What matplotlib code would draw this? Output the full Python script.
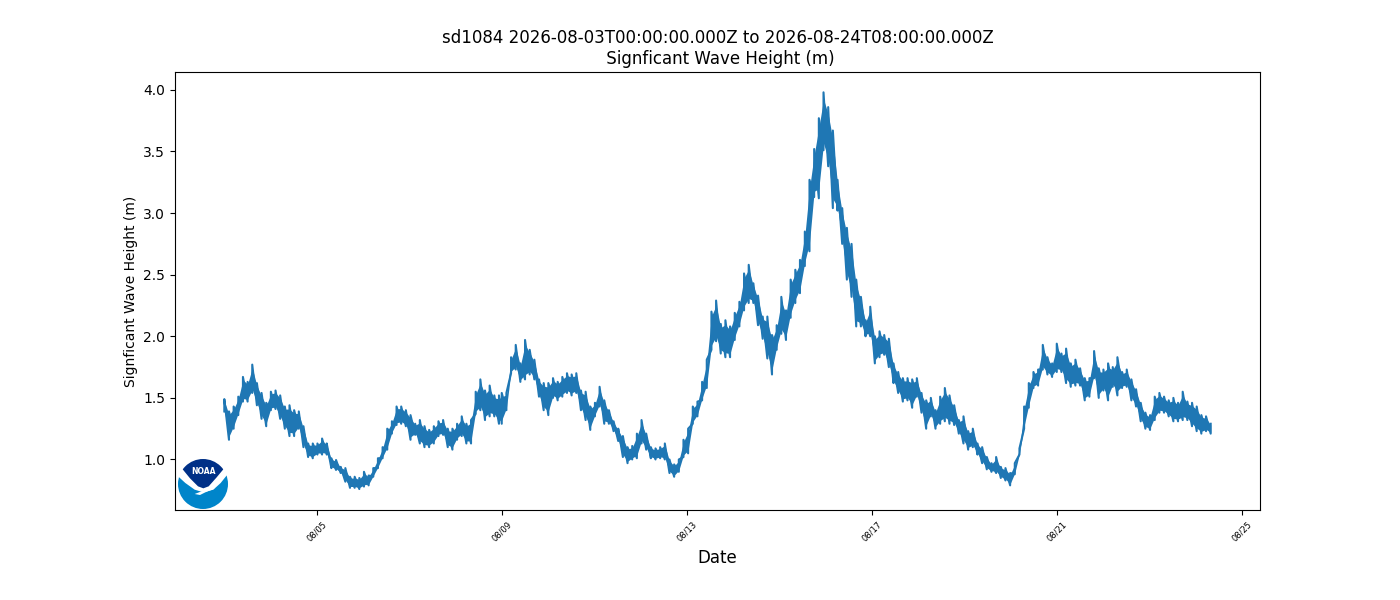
from datetime import datetime, timedelta
import numpy as np
import matplotlib
matplotlib.use("Agg")
import matplotlib.pyplot as plt
import matplotlib.dates as mdates
from matplotlib.patches import Circle, Polygon

titulo = "sd1084 2026-08-03T00:00:00.000Z to 2026-08-24T08:00:00.000Z\n Signficant Wave Height (m)"
etiqueta_y = "Signficant Wave Height (m)"
etiqueta_x = "Date"
inicio = datetime(2026, 8, 3)
fechas_ticks = [datetime(2026, 8, d) for d in (5, 9, 13, 17, 21, 25)]

# dias desde el inicio, tramos (inicio, fin)
tramo_a = (0.0, 5.94)
tramo_b = (6.0, 12.45)
tramo_c = (12.555, 13.97)
tramo_d = (14.07, 21.333)

# minimo y maximo de la banda de ruido en cada punto
bajo_a = [1.39,1.16,1.25,1.36,1.47,1.47,1.54,1.44,1.33,1.27,1.40,1.41,1.33,1.25,1.19,1.19,1.25,1.10,1.02,1.01,
          1.04,1.04,1.04,0.93,0.915,0.89,0.82,0.77,0.77,0.76,0.78,0.79,0.86,0.93,1.01,1.08,1.21,1.28,1.29,1.27,
          1.16,1.20,1.13,1.10,1.10,1.13,1.19,1.20,1.10,1.08,1.16,1.19,1.13,1.13,1.37,1.40,1.32,1.35,1.35,1.29]
alto_a = [1.49,1.39,1.43,1.51,1.67,1.63,1.77,1.62,1.54,1.46,1.55,1.56,1.52,1.43,1.44,1.40,1.39,1.27,1.13,1.13,
          1.13,1.17,1.13,1.01,0.996,0.94,0.93,0.86,0.86,0.85,0.90,0.87,0.93,1.01,1.10,1.25,1.31,1.43,1.43,1.40,
          1.36,1.29,1.32,1.27,1.24,1.27,1.31,1.32,1.25,1.25,1.29,1.35,1.29,1.32,1.55,1.65,1.56,1.60,1.52,1.52]

bajo_b = [1.29,1.40,1.70,1.73,1.63,1.65,1.69,1.65,1.51,1.40,1.36,1.50,1.48,1.51,1.54,1.52,1.54,1.40,1.32,1.24,
          1.35,1.43,1.29,1.29,1.23,1.15,1.02,0.97,1.00,1.01,1.13,1.08,1.01,1.00,1.01,1.00,0.89,0.86,0.90,1.02,
          1.05,1.29,1.35,1.48,1.58,1.89,1.96,1.86,1.83,1.83,1.97,2.08,2.21,2.27,2.27,2.09,1.98,1.82,1.69,1.89,
          2.02,1.97,2.15,2.27,2.35]
alto_b = [1.54,1.54,1.83,1.93,1.78,1.97,1.89,1.81,1.65,1.62,1.62,1.66,1.63,1.67,1.70,1.69,1.70,1.56,1.55,1.43,
          1.46,1.59,1.48,1.40,1.31,1.25,1.19,1.10,1.11,1.21,1.32,1.21,1.10,1.09,1.10,1.13,1.00,0.96,1.00,1.16,
          1.25,1.43,1.47,1.63,1.81,2.20,2.29,2.10,2.13,2.08,2.19,2.28,2.51,2.58,2.43,2.33,2.16,2.16,2.01,2.09,
          2.32,2.21,2.46,2.54,2.62]

bajo_c = [2.57,2.69,3.13,3.12,3.51,3.38,3.04,3.02,2.75,2.46,2.32,2.08,2.08,2.00,2.00]
alto_c = [2.85,3.27,3.52,3.77,3.98,3.86,3.67,3.27,3.04,2.88,2.75,2.46,2.32,2.13,2.24]

bajo_d = [1.78,1.83,1.85,1.75,1.62,1.54,1.47,1.48,1.42,1.51,1.38,1.25,1.35,1.25,1.29,1.31,1.29,1.28,1.21,1.13,
          1.08,1.10,1.04,0.97,0.92,0.90,0.89,0.85,0.83,0.79,0.88,1.04,1.25,1.42,1.58,1.60,1.73,1.69,1.67,1.71,
          1.71,1.62,1.59,1.60,1.60,1.48,1.51,1.66,1.50,1.56,1.48,1.59,1.52,1.58,1.59,1.48,1.43,1.31,1.25,1.24,
          1.32,1.38,1.38,1.35,1.31,1.31,1.32,1.32,1.27,1.23,1.21,1.23,1.21]
alto_d = [2.00,2.04,2.01,1.98,1.78,1.71,1.66,1.66,1.65,1.66,1.54,1.48,1.50,1.40,1.51,1.58,1.52,1.44,1.32,1.35,
          1.23,1.25,1.13,1.10,1.02,0.97,1.02,0.94,0.93,0.89,0.97,1.09,1.43,1.62,1.71,1.73,1.93,1.83,1.78,1.94,
          1.86,1.90,1.78,1.81,1.74,1.66,1.66,1.88,1.74,1.73,1.78,1.75,1.83,1.71,1.73,1.65,1.57,1.46,1.38,1.36,
          1.51,1.54,1.51,1.48,1.50,1.46,1.55,1.47,1.46,1.43,1.36,1.35,1.29]

dias = []
for tramo, serie in [(tramo_a, bajo_a), (tramo_b, bajo_b), (tramo_c, bajo_c), (tramo_d, bajo_d)]:
    dias.extend(np.linspace(tramo[0], tramo[1], len(serie)))
bajo = np.array(bajo_a + bajo_b + bajo_c + bajo_d)
alto = np.array(alto_a + alto_b + alto_c + alto_d)
fechas = [inicio + timedelta(days=float(d)) for d in dias]

# zigzag entre minimo y maximo
x = []
y = []
for f, b, a in zip(fechas, bajo, alto):
    x += [f, f]
    y += [b, a]

fig = plt.figure(figsize=(14, 6), dpi=100)
ax = fig.add_subplot(111)
fig.subplots_adjust(bottom=0.15)
# relleno solo en el centro de la banda, asi quedan los picos del zigzag
centro = (bajo + alto) / 2
ancho = (alto - bajo) * 0.38
ax.fill_between(fechas, centro - ancho, centro + ancho, color="#1f77b4", lw=0)
ax.plot(x, y, color="#1f77b4", lw=1.5)
ax.set_ylim(0.59, 4.145)

ax.set_title(titulo)
ax.set_ylabel(etiqueta_y)
ax.set_xlabel(etiqueta_x, fontsize=12)
ax.set_xticks(fechas_ticks)
ax.xaxis.set_major_formatter(mdates.DateFormatter("%m/%d"))
ax.tick_params(axis="x", labelsize=6, labelrotation=45)

# logo NOAA, coordenadas del recuadro en pixeles
logo = fig.add_axes([178 / 1400, 91 / 600, 50 / 1400, 50 / 600])
logo.set_xlim(0, 150)
logo.set_ylim(150, 0)
logo.axis("off")
logo.add_patch(Circle((75, 75), 75, color="#0085ca", lw=0))
logo.add_patch(Polygon([(-2, 50), (22, 72), (50, 92), (76, 100), (106, 92), (128, 72), (152, 42), (152, -2), (-2, -2)],
                       color="white", lw=0))
oscuro = Polygon([(0, 25), (14, 31), (36, 58), (60, 82), (76, 88), (92, 82), (116, 55), (136, 31), (150, 20), (150, -2), (0, -2)],
                 color="#003087", lw=0)
logo.add_patch(oscuro)
oscuro.set_clip_path(Circle((75, 75), 75, transform=logo.transData))
logo.add_patch(Polygon([(50, 105), (76, 95), (112, 88), (82, 100), (66, 108)], color="white", lw=0))
logo.text(75, 39, "NOAA", color="white", fontsize=5.5, fontweight="bold", ha="center", va="center")

fig.savefig("out.png", dpi=100)
